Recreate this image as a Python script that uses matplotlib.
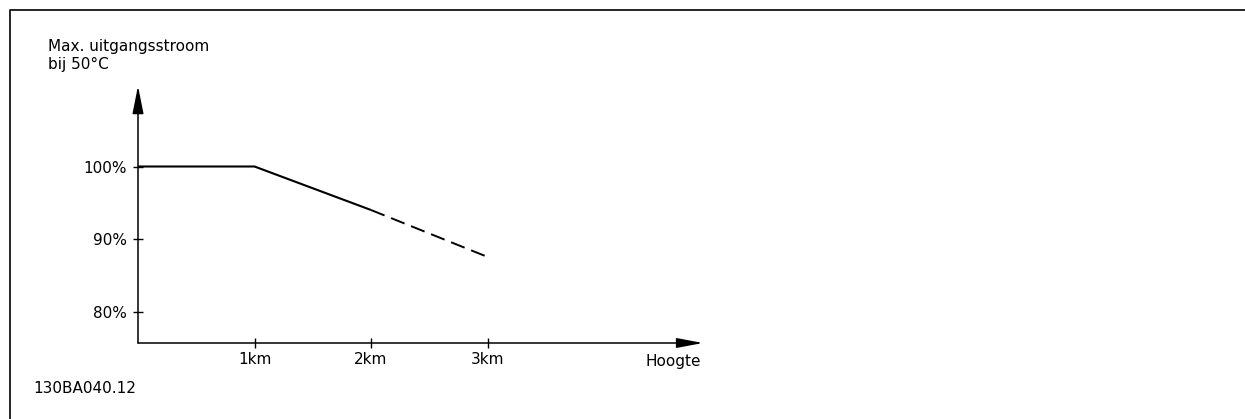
import matplotlib
matplotlib.use("Agg")
import matplotlib.pyplot as plt
from matplotlib.lines import Line2D

# ---- data ----
altitude_km = [0, 1, 2]
current_pct = [100, 100, 94.0]
altitude_dashed_km = [2, 3.02]
current_dashed_pct = [94.0, 87.4]
x_ticks = [1, 2, 3]
x_tick_labels = ["1km", "2km", "3km"]
y_ticks = [80, 90, 100]
y_tick_labels = ["80%", "90%", "100%"]
y_title_lines = ["Max. uitgangsstroom", "bij 50°C"]
x_title = "Hoogte"
doc_code = "130BA040.12"

W, H = 1245, 419
plt.rcParams['font.family'] = ['DejaVu Sans']
fig = plt.figure(figsize=(W / 100, H / 100), dpi=100)

def fx(px):
    return px / W

def fy(py):
    return 1 - py / H

# axes geometry (pixels)
x0, x1 = 138, 703
y0, y1 = 343, 86
ax = fig.add_axes([fx(x0), fy(y0), fx(x1 - x0), (y0 - y1) / H])
ax.set_xlim(0, (x1 - x0) / 116.5)
ax.set_ylim(80 - (y0 - 311.5) / 7.25, 100 + (166.5 - y1) / 7.25)
for s in ax.spines.values():
    s.set_visible(False)
ax.patch.set_visible(False)

fs = 11
ax.set_xticks(x_ticks)
ax.set_xticklabels(x_tick_labels, fontsize=fs)
ax.set_yticks(y_ticks)
ax.set_yticklabels(y_tick_labels, fontsize=fs)
ax.tick_params(axis='both', direction='inout', length=7.5, width=1.0, color='black')
ax.tick_params(axis='x', pad=2.5)
ax.tick_params(axis='y', pad=4.5)

# axis arrows
ax.annotate('', xy=(1, 0), xytext=(0, 0), xycoords='axes fraction',
            arrowprops=dict(arrowstyle='-|>,head_length=16,head_width=3.0',
                            mutation_scale=1, lw=1.1, color='black',
                            shrinkA=0, shrinkB=0), annotation_clip=False)
ax.annotate('', xy=(0, 1), xytext=(0, 0), xycoords='axes fraction',
            arrowprops=dict(arrowstyle='-|>,head_length=17,head_width=3.4',
                            mutation_scale=1, lw=1.1, color='black',
                            shrinkA=0, shrinkB=0), annotation_clip=False)

# curves
ax.plot(altitude_km, current_pct, color='black', lw=1.5, solid_capstyle='butt')
ax.plot(altitude_dashed_km, current_dashed_pct, color='black', lw=1.4,
        linestyle=(0, (7.5, 3.6)))

# texts
fig.text(fx(48), fy(51), y_title_lines[0], fontsize=fs, ha='left', va='baseline')
fig.text(fx(48), fy(69), y_title_lines[1], fontsize=fs, ha='left', va='baseline')
fig.text(fx(701), fy(366), x_title, fontsize=fs, ha='right', va='baseline')
fig.text(fx(33), fy(393), doc_code, fontsize=fs, ha='left', va='baseline')

# frame
fig.add_artist(Line2D([fx(9.5), fx(9.5), 1.0], [0.0, fy(10.5), fy(10.5)],
                      transform=fig.transFigure, color='black', lw=1.2))

fig.savefig("out.png", dpi=100)
